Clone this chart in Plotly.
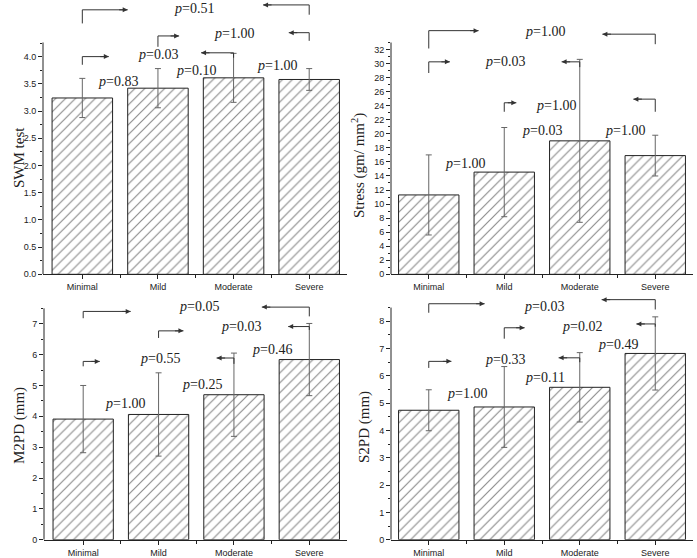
import plotly.graph_objects as go

# ---------------- data ----------------
categories = ["Minimal", "Mild", "Moderate", "Severe"]

swm_mean = [3.24, 3.42, 3.61, 3.58]
swm_sd = [0.36, 0.36, 0.45, 0.20]
swm_p_adjacent = ["0.83", "0.10", "1.00"]          # Min-Mild, Mild-Mod, Mod-Sev
swm_p_long = ["0.03", "1.00", "0.51"]              # Min-Mod, Mild-Sev, Min-Sev

stress_mean = [11.3, 14.55, 19.0, 16.9]
stress_sd = [5.7, 6.35, 11.6, 2.9]
stress_p_adjacent = ["1.00", "0.03", "1.00"]
stress_p_long = ["0.03", "1.00", "1.00"]

m2pd_mean = [3.91, 4.06, 4.70, 5.84]
m2pd_sd = [1.09, 1.35, 1.35, 1.17]
m2pd_p_adjacent = ["1.00", "0.25", "0.46"]
m2pd_p_long = ["0.55", "0.03", "0.05"]

s2pd_mean = [4.74, 4.86, 5.58, 6.82]
s2pd_sd = [0.75, 1.48, 1.27, 1.34]
s2pd_p_adjacent = ["1.00", "0.11", "0.49"]
s2pd_p_long = ["0.33", "0.02", "0.03"]

swm_ticks = [0.0, 0.5, 1.0, 1.5, 2.0, 2.5, 3.0, 3.5, 4.0]
stress_ticks = [0, 2, 4, 6, 8, 10, 12, 14, 16, 18, 20, 22, 24, 26, 28, 30, 32]
m2pd_ticks = [0, 1, 2, 3, 4, 5, 6, 7]
s2pd_ticks = [0, 1, 2, 3, 4, 5, 6, 7, 8]

x_pos = list(range(len(categories)))

# ---------------- layout / styling ----------------
W, H = 697, 558
INK = "#222222"
SERIF = "Liberation Serif, Times New Roman, serif"
SANS = "Liberation Sans, Arial, sans-serif"

def px_x(p):
    return p / W

def px_y(p):
    return (H - p) / H

panels = [
    dict(mean=swm_mean, sd=swm_sd, padj=swm_p_adjacent, plong=swm_p_long,
         ticks=swm_ticks, tickfmt=".1f", minor_step=0.25, axis_top=4.26,
         title="SWM test", title_xy=(19, 158),
         xdom=(43, 347), ydom=(2.2, 274.3), yrange=(0, 5.0), xrange=(-0.52, 3.5),
         adj_pos=[(0.47, 3.55), (1.5, 3.74), (2.57, 3.83)],
         long_pos=[(1.0, 4.03), (2.01, 4.43), (1.48, 4.89)],
         brackets=[[(0, 3.85, 4.0, 0.35), (2, 3.98, 4.07, 1.57)],
                   [(1, 4.18, 4.38, 1.28), (3, 4.29, 4.44, 2.73)],
                   [(0, 4.61, 4.86, 0.60), (3, 4.77, 4.95, 2.39)]]),
    dict(mean=stress_mean, sd=stress_sd, padj=stress_p_adjacent, plong=stress_p_long,
         ticks=stress_ticks, tickfmt="d", minor_step=1, axis_top=33,
         title="Stress (gm/ mm<sup>2</sup>)", title_xy=(359, 165),
         xdom=(391, 693), ydom=(2.2, 274.3), yrange=(0, 38.74), xrange=(-0.5, 3.5),
         adj_pos=[(0.48, 15.79), (1.50, 20.53), (2.60, 20.53)],
         long_pos=[(1.01, 30.25), (1.69, 24.09), (1.54, 34.52)],
         brackets=[[(0, 28.66, 30.25, 0.28), (2, 29.5, 30.25, 1.76)],
                   [(1, 23.14, 24.42, 1.16), (3, 23.14, 24.94, 2.71)],
                   [(0, 32.15, 34.69, 0.66), (3, 32.76, 34.19, 2.30)]]),
    dict(mean=m2pd_mean, sd=m2pd_sd, padj=m2pd_p_adjacent, plong=m2pd_p_long,
         ticks=m2pd_ticks, tickfmt="d", minor_step=0.5, axis_top=7.5,
         title="M2PD (mm)", title_xy=(19, 426),
         xdom=(44, 347), ydom=(292, 539.7), yrange=(0, 8.03), xrange=(-0.52, 3.5),
         adj_pos=[(0.56, 4.43), (1.57, 5.02), (2.50, 6.18)],
         long_pos=[(1.02, 5.89), (2.10, 6.91), (1.54, 7.56)],
         brackets=[[(0, 5.62, 5.78, 0.22), (2, 5.7, 5.89, 1.77)],
                   [(1, 6.54, 6.77, 1.33), (3, 6.8, 6.91, 2.72)],
                   [(0, 7.18, 7.40, 0.63), (3, 7.24, 7.54, 2.37)]]),
    dict(mean=s2pd_mean, sd=s2pd_sd, padj=s2pd_p_adjacent, plong=s2pd_p_long,
         ticks=s2pd_ticks, tickfmt="d", minor_step=0.5, axis_top=8.5,
         title="S2PD (mm)", title_xy=(364, 427),
         xdom=(391, 693), ydom=(292, 539.7), yrange=(0, 9.07), xrange=(-0.5, 3.5),
         adj_pos=[(0.50, 5.34), (1.54, 5.95), (2.51, 7.15)],
         long_pos=[(1.01, 6.60), (2.03, 7.82), (1.52, 8.55)],
         brackets=[[(0, 6.29, 6.53, 0.30), (2, 6.5, 6.66, 1.72)],
                   [(1, 7.36, 7.76, 1.27), (3, 7.8, 7.90, 2.75)],
                   [(0, 8.31, 8.64, 0.74), (3, 8.43, 8.79, 2.29)]]),
]

fig = go.Figure()
shapes = []
annotations = []
layout_axes = {}

for i, p in enumerate(panels):
    n = "" if i == 0 else str(i + 1)
    xid, yid = "x" + n, "y" + n
    fig.add_trace(go.Bar(
        x=x_pos, y=p["mean"], xaxis=xid, yaxis=yid, width=0.8,
        marker=dict(color="white", line=dict(color=INK, width=1),
                    pattern=dict(shape="/", size=7, solidity=0.17,
                                 fgcolor="#1a1a1a", bgcolor="white")),
        error_y=dict(type="data", array=p["sd"], visible=True,
                     color="#666666", thickness=1, width=3),
        showlegend=False, hoverinfo="skip",
    ))

    # minor tick values between major ticks, up to axis top
    minors = []
    v = p["minor_step"]
    while v <= p["axis_top"] + 1e-9:
        if all(abs(v - t) > 1e-9 for t in p["ticks"]):
            minors.append(round(v, 4))
        v += p["minor_step"]

    layout_axes["xaxis" + n] = dict(
        domain=[px_x(p["xdom"][0]), px_x(p["xdom"][1])], anchor=yid,
        range=list(p["xrange"]), showline=True, linecolor=INK, linewidth=1,
        ticks="outside", ticklen=4, tickwidth=1, tickcolor=INK,
        tickvals=x_pos, ticktext=categories,
        tickfont=dict(family=SANS, size=9, color=INK),
        minor=dict(tickvals=[0.5, 1.5, 2.5], ticks="outside", ticklen=3,
                   tickcolor=INK, tickwidth=1),
        showgrid=False, zeroline=False, fixedrange=True, automargin=False,
    )
    layout_axes["yaxis" + n] = dict(
        domain=[px_y(p["ydom"][1]), px_y(p["ydom"][0])], anchor=xid,
        range=list(p["yrange"]), showline=False,
        ticks="outside", ticklen=4, tickwidth=1, tickcolor=INK,
        tickvals=p["ticks"], tickformat=p["tickfmt"],
        tickfont=dict(family=SANS, size=9, color=INK),
        minor=dict(tickvals=minors, ticks="outside", ticklen=2,
                   tickcolor=INK, tickwidth=1),
        showgrid=False, zeroline=False, fixedrange=True, automargin=False,
    )

    # visible y axis line (only up to axis top)
    shapes.append(dict(type="line", xref=xid + " domain", yref=yid,
                       x0=0, x1=0, y0=0, y1=p["axis_top"],
                       line=dict(color=INK, width=1)))

    # y axis title
    annotations.append(dict(text=p["title"], xref="paper", yref="paper",
                            x=px_x(p["title_xy"][0]), y=px_y(p["title_xy"][1]),
                            xanchor="center", yanchor="middle",
                            showarrow=False, textangle=-90,
                            font=dict(family=SERIF, size=15, color=INK)))

    # adjacent-pair p values
    for txt, (tx, ty) in zip(p["padj"], p["adj_pos"]):
        annotations.append(dict(text="<i>p</i>=" + txt, xref=xid, yref=yid,
                                x=tx, y=ty, xanchor="center", yanchor="middle",
                                showarrow=False,
                                font=dict(family=SERIF, size=14, color=INK)))

    # long comparisons with arrow brackets
    for txt, (tx, ty), sides in zip(p["plong"], p["long_pos"], p["brackets"]):
        annotations.append(dict(text="<i>p</i>=" + txt, xref=xid, yref=yid,
                                x=tx, y=ty, xanchor="center", yanchor="middle",
                                showarrow=False,
                                font=dict(family=SERIF, size=14, color=INK)))
        for (bx, yb, yl, hx) in sides:
            shapes.append(dict(type="line", xref=xid, yref=yid,
                               x0=bx, x1=bx, y0=yb, y1=yl,
                               line=dict(color="#333333", width=1)))
            shapes.append(dict(type="line", xref=xid, yref=yid,
                               x0=bx, x1=hx, y0=yl, y1=yl,
                               line=dict(color="#333333", width=1)))
            annotations.append(dict(text="", xref=xid, yref=yid,
                                    x=hx, y=yl, ax=(-10 if hx > bx else 10), ay=0,
                                    showarrow=True, arrowhead=2, arrowsize=1,
                                    arrowwidth=1, arrowcolor="#333333",
                                    standoff=0, startstandoff=0))

fig.update_layout(
    width=W, height=H,
    margin=dict(l=0, r=0, t=0, b=0, autoexpand=False),
    paper_bgcolor="white", plot_bgcolor="white",
    bargap=0.2, showlegend=False,
    shapes=shapes, annotations=annotations,
    **layout_axes,
)

fig.write_html("out.html",
               config={"displayModeBar": False, "staticPlot": True},
               post_script="document.body.style.margin='0';document.body.style.padding='0';")
